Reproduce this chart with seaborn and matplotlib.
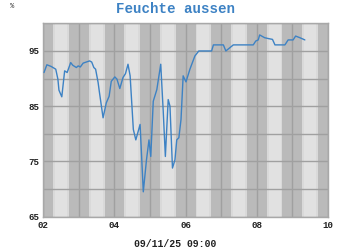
import matplotlib
matplotlib.use("Agg")
import matplotlib.pyplot as plt
import seaborn as sns
import pandas as pd
import numpy as np

# ---- data ----
x_vals = [2.02, 2.10, 2.22, 2.35, 2.41, 2.44, 2.52, 2.60, 2.67, 2.77, 2.83, 2.93, 2.98,
          3.04, 3.12, 3.30, 3.36, 3.42, 3.47, 3.54, 3.58, 3.68, 3.77, 3.85, 3.91, 4.01,
          4.07, 4.15, 4.24, 4.31, 4.38, 4.44, 4.53, 4.60, 4.72, 4.81, 4.90, 4.97, 5.02,
          5.09, 5.19, 5.30, 5.37, 5.43, 5.51, 5.56, 5.63, 5.70, 5.75, 5.81, 5.87, 5.93,
          6.01, 6.12, 6.26, 6.37, 6.73, 6.78, 7.06, 7.13, 7.34, 7.90, 7.97, 8.04, 8.08,
          8.22, 8.32, 8.44, 8.51, 8.79, 8.88, 9.02, 9.09, 9.21, 9.35]
y_vals = [91.1, 92.5, 92.2, 91.7, 89.9, 87.9, 86.7, 91.4, 91.1, 92.9, 92.4, 92.0, 92.3,
          92.1, 92.8, 93.2, 93.0, 92.0, 91.7, 89.3, 87.4, 82.9, 85.6, 86.8, 89.5, 90.3,
          89.9, 88.2, 90.2, 90.9, 92.6, 90.5, 80.8, 78.9, 81.7, 69.5, 75.3, 78.9, 75.9,
          85.9, 88.0, 92.6, 84.1, 75.9, 86.2, 85.0, 73.8, 75.3, 78.9, 79.3, 82.6, 90.5,
          89.4, 91.7, 94.1, 95.0, 95.0, 96.1, 96.1, 95.0, 96.1, 96.1, 96.8, 97.0, 97.9,
          97.4, 97.25, 97.1, 96.1, 96.1, 97.0, 97.0, 97.7, 97.4, 97.0]
x_ticks = [2, 4, 6, 8, 10]
x_tick_labels = ["02", "04", "06", "08", "10"]
y_ticks = [65, 75, 85, 95]
y_tick_labels = ["65", "75", "85", "95"]
title = "Feuchte aussen"
unit = "%"
footer = "09/11/25 09:00"

df = pd.DataFrame({"x": x_vals, "y": y_vals})

sns.set_style("white")
plt.rcParams["font.family"] = ["Liberation Mono", "DejaVu Sans Mono"]

fig = plt.figure(figsize=(3.5, 2.5), dpi=100)
ax = fig.add_axes([0.1237, 0.1333, 0.8134, 0.7733])

# background stripes
ax.set_facecolor("#bababa")
for i in range(2, 10):
    ax.axvspan(i + 0.28, i + 0.72, color="#d9d9d9", lw=0, zorder=0)
    ax.axvspan(i + 0.33, i + 0.67, color="#e1e1e1", lw=0, zorder=0)

sns.lineplot(data=df, x="x", y="y", ax=ax, color="#3d82c4", lw=1.0, zorder=3)

ax.set_xlim(2, 10)
ax.set_ylim(65, 100)
ax.set_xticks(x_ticks)
ax.set_xticklabels(x_tick_labels)
ax.set_yticks(y_ticks)
ax.set_yticklabels(y_tick_labels)
ax.set_xticks(np.arange(2, 11, 1), minor=True)
ax.set_yticks(np.arange(65, 101, 5), minor=True)
ax.grid(which="both", color="#a0a0a0", lw=1.0, zorder=1)
ax.set_axisbelow(True)
ax.tick_params(which="both", length=0, pad=3)
ax.tick_params(axis="both", labelsize=6.6, colors="#222222")
for lab in ax.get_xticklabels() + ax.get_yticklabels():
    lab.set_fontweight("bold")
ax.set_xlabel("")
ax.set_ylabel("")
for s in ax.spines.values():
    s.set_color("#a8a8a8")
    s.set_linewidth(1.0)

fig.text(0.5, 0.965, title, ha="center", va="center", fontsize=10.2,
         fontweight="bold", color="#3d82c4")
fig.text(0.035, 0.975, unit, ha="center", va="center", fontsize=5, color="#333333")
fig.text(0.5, 0.025, footer, ha="center", va="center", fontsize=7.1,
         fontweight="bold", color="#222222")

fig.savefig("out.png", dpi=100, facecolor="white")
